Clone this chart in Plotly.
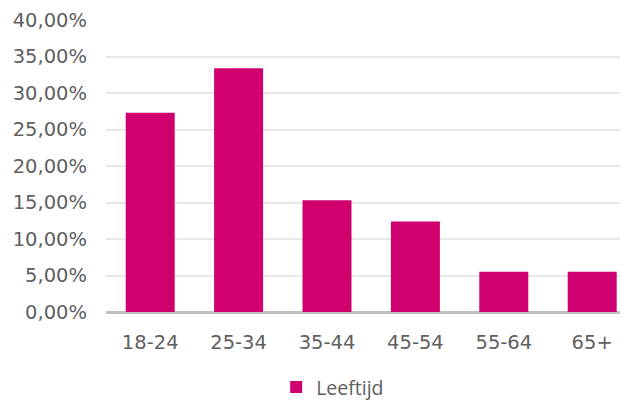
import plotly.graph_objects as go

categories = ["18-24", "25-34", "35-44", "45-54", "55-64", "65+"]
values = [27.3, 33.4, 15.3, 12.4, 5.5, 5.5]
series_name = "Leeftijd"
tick_vals = [0, 5, 10, 15, 20, 25, 30, 35, 40]
tick_text = ["0,00%", "5,00%", "10,00%", "15,00%", "20,00%", "25,00%", "30,00%", "35,00%", "40,00%"]

fig = go.Figure()
fig.add_trace(go.Bar(
    x=categories, y=values, name=series_name,
    marker=dict(color="#D0006F", line=dict(width=0)),
    showlegend=True,
))

fig.update_layout(
    width=628, height=403,
    margin=dict(l=98, r=8, t=12, b=99, autoexpand=False),
    paper_bgcolor="white", plot_bgcolor="white",
    bargap=0.446,
    font=dict(family="DejaVu Sans", size=19.5, color="#606060"),
    showlegend=True,
    legend=dict(orientation="h", x=0.326, xanchor="left", y=-0.258, yanchor="middle",
                font=dict(family="Open Sans", size=19.5, color="#606060"),
                bgcolor="rgba(0,0,0,0)"),
    xaxis=dict(range=[-0.5, 5.405], showgrid=False, ticks="", showline=False,
               zeroline=False, automargin=False, ticklabelstandoff=16,
               tickfont=dict(size=19.5, color="#606060")),
    yaxis=dict(range=[0, 40], tickvals=tick_vals, ticktext=tick_text,
               showgrid=True, gridcolor="#E8E8E8", gridwidth=1.5,
               zeroline=True, zerolinecolor="#BFBFBF", zerolinewidth=2.5,
               showline=False, ticks="", ticklabelstandoff=18, automargin=False,
               tickfont=dict(size=19.5, color="#606060")),
)

fig.write_html("out.html")
